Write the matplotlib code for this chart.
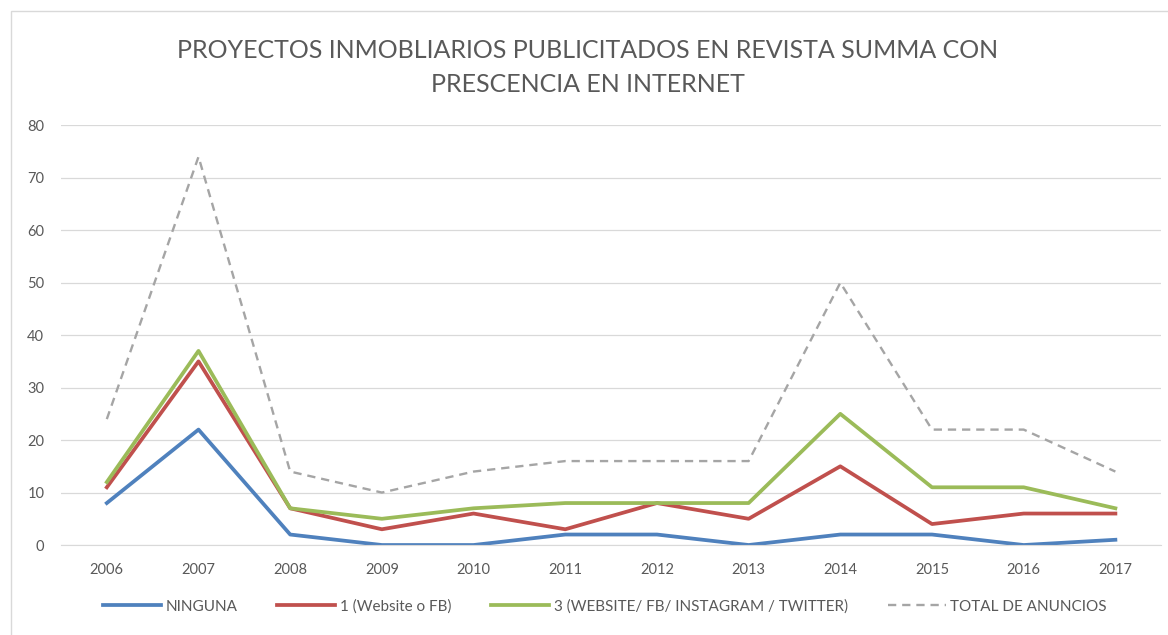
import matplotlib.pyplot as plt
import numpy as np

plt.rcParams['font.family'] = ['Lato', 'DejaVu Sans']

years = ['2006', '2007', '2008', '2009', '2010', '2011', '2012', '2013', '2014', '2015', '2016', '2017']
ninguna = [8, 22, 2, 0, 0, 2, 2, 0, 2, 2, 0, 1]
uno = [11, 35, 7, 3, 6, 3, 8, 5, 15, 4, 6, 6]
tres = [12, 37, 7, 5, 7, 8, 8, 8, 25, 11, 11, 7]
total = [24, 74, 14, 10, 14, 16, 16, 16, 50, 22, 22, 14]

fig = plt.figure(figsize=(11.68, 6.35), dpi=100)
ax = fig.add_axes([0.0522, 0.1417, 0.942, 0.661])

x = np.arange(len(years))
ax.plot(x, ninguna, color='#4F81BD', lw=2.7, label='NINGUNA')
ax.plot(x, uno, color='#C0504D', lw=2.7, label='1 (Website o FB)')
ax.plot(x, tres, color='#9BBB59', lw=2.7, label='3 (WEBSITE/ FB/ INSTAGRAM / TWITTER)')
ax.plot(x, total, color='#A5A5A5', lw=1.7, ls=(0, (3.5, 2.5)), label='TOTAL DE ANUNCIOS')

ax.set_xlim(-0.5, len(years) - 0.5)
ax.set_ylim(0, 80)
ax.set_yticks(range(0, 81, 10))
ax.set_xticks(x)
ax.set_xticklabels(years)
ax.grid(axis='y', color='#D9D9D9', lw=0.9)
ax.set_axisbelow(True)
for s in ax.spines.values():
    s.set_visible(False)
ax.spines['bottom'].set_visible(True)
ax.spines['bottom'].set_color('#D9D9D9')
ax.tick_params(length=0, colors='#595959', labelsize=10.5)
ax.tick_params(axis='y', pad=12)
ax.tick_params(axis='x', pad=13)

fig.text(0.503, 0.894, 'PROYECTOS INMOBLIARIOS PUBLICITADOS EN REVISTA SUMMA CON\nPRESCENCIA EN INTERNET',
         ha='center', va='center', fontsize=18, color='#595959', linespacing=1.6)

fig.legend(loc='center', bbox_to_anchor=(0.518, 0.045), ncol=4, frameon=False,
           fontsize=11, labelcolor='#595959',
           handlelength=3.8, columnspacing=2.6, handletextpad=0.3)

border = plt.Rectangle((11 / 1168, -0.1), 1.2, 1.1 - 11 / 635, transform=fig.transFigure,
                       fill=False, ec='#D9D9D9', lw=1)
fig.patches.append(border)

fig.savefig('out.png', dpi=100)
